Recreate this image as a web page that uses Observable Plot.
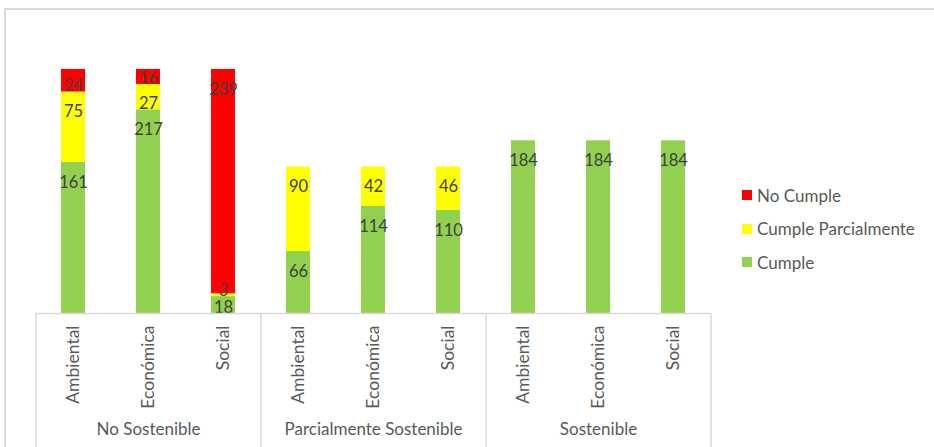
<!DOCTYPE html>
<html><head><meta charset="utf-8">
<script src="https://cdn.jsdelivr.net/npm/d3@7"></script>
<script src="https://cdn.jsdelivr.net/npm/@observablehq/plot@0.6"></script>
<style>
body{margin:0;background:#fff;}
#wrap{position:relative;width:934px;height:447px;overflow:hidden;font-family:Lato,sans-serif;}
#wrap svg{position:absolute;left:0;top:0;}
#frame{position:absolute;left:4px;top:8px;right:-10px;bottom:-10px;border-top:2px solid #d9d9d9;border-left:2px solid #d9d9d9;}
#legend{position:absolute;left:742px;top:185px;color:#595959;font-size:17px;}
.item{display:flex;align-items:center;height:20px;margin-bottom:13.5px;white-space:nowrap;}
.sw{width:10px;height:10px;margin-right:5px;flex:none;}
</style></head><body>
<div id="wrap"><div id="frame"></div><div id="legend"></div></div>
<script>
// ---- data ----
const groups = ["No Sostenible", "Parcialmente Sostenible", "Sostenible"];
const dimensions = ["Ambiental", "Económica", "Social"];
const seriesNames = ["Cumple", "Cumple Parcialmente", "No Cumple"];
const seriesColors = ["#92D050", "#FFFF00", "#FF0000"];
const cumple = [161, 217, 18, 66, 114, 110, 184, 184, 184];
const cumpleParcialmente = [75, 27, 3, 90, 42, 46, 0, 0, 0];
const noCumple = [24, 16, 239, 0, 0, 0, 0, 0, 0];
const yMax = 260;

// ---- build table ----
const keys = [];
const cats = [];
groups.forEach(g => dimensions.forEach(d => { keys.push(g + "|" + d); cats.push({key: g + "|" + d, group: g, dim: d}); }));
const seriesValues = [cumple, cumpleParcialmente, noCumple];
const rows = [];
keys.forEach((k, i) => {
  let acc = 0;
  seriesNames.forEach((s, j) => {
    const v = seriesValues[j][i];
    rows.push({key: k, series: s, value: v, y1: acc, y2: acc + v});
    acc += v;
  });
});

const W = 934, H = 447, mT = 69, mB = 134, mL = 35, mR = 224;
const ppu = (H - mT - mB) / yMax;          // pixels per unit
const step = (W - mL - mR) / keys.length;  // band step in px
const labels = rows.filter(r => r.value > 0).map(r => ({
  ...r,
  ly: Math.max(r.y2 - 20 / ppu, r.y1 + 6 / ppu)
}));

const groupFirst = groups.map(g => g + "|" + dimensions[0]);
const groupMid = groups.map(g => g + "|" + dimensions[1]);
const lastKey = keys[keys.length - 1];
const bottomExt = -(mB) / ppu;

const chart = Plot.plot({
  width: W, height: H,
  marginTop: mT, marginBottom: mB, marginLeft: mL, marginRight: mR,
  style: {fontFamily: "Lato, sans-serif", background: "transparent", overflow: "visible"},
  x: {domain: keys, paddingInner: 0.68, paddingOuter: 0.34, axis: null},
  y: {domain: [0, yMax], axis: null},
  color: {domain: seriesNames, range: seriesColors},
  marks: [
    Plot.barY(rows, {x: "key", y: "value", fill: "series", order: seriesNames, inset: 0}),
    Plot.text(labels, {x: "key", y: "ly", text: d => String(d.value), fill: "#404040", fontSize: 16.5, lineAnchor: "middle"}),
    Plot.ruleY([0], {stroke: "#d9d9d9", strokeWidth: 1.5}),
    Plot.ruleX(groupFirst, {x: d => d, y1: 0, y2: bottomExt, dx: -step / 2, stroke: "#d9d9d9", strokeWidth: 1.5}),
    Plot.ruleX([lastKey], {x: d => d, y1: 0, y2: bottomExt, dx: step / 2, stroke: "#d9d9d9", strokeWidth: 1.5}),
    Plot.text(cats, {x: "key", y: 0, text: "dim", rotate: -90, textAnchor: "end", lineAnchor: "middle", dy: 12, fill: "#595959", fontSize: 17.5}),
    Plot.text(groupMid, {x: d => d, y: 0, text: d => d.split("|")[0], dy: 116, fill: "#595959", fontSize: 17, lineAnchor: "middle"})
  ]
});
document.getElementById("wrap").prepend(chart);

const legend = document.getElementById("legend");
[2, 1, 0].forEach(j => {
  const it = document.createElement("div");
  it.className = "item";
  it.innerHTML = `<span class="sw" style="background:${seriesColors[j]}"></span><span>${seriesNames[j]}</span>`;
  legend.appendChild(it);
});
</script>
</body></html>
